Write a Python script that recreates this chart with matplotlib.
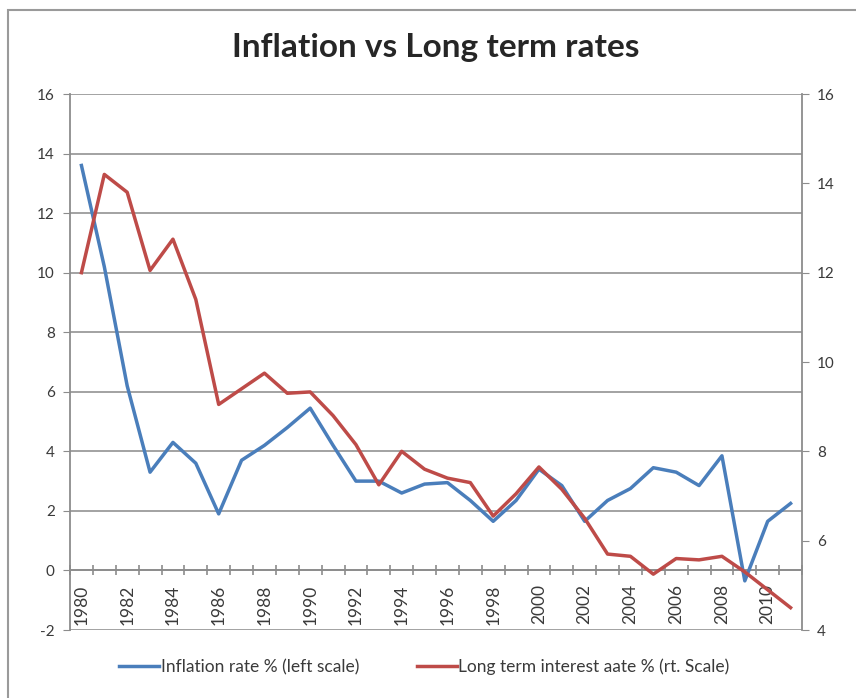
import matplotlib
matplotlib.use("Agg")
import matplotlib.pyplot as plt
from matplotlib.patches import Rectangle
from matplotlib.ticker import FixedLocator

# Annual series, 1980-2011
years = [1980, 1981, 1982, 1983, 1984, 1985, 1986, 1987, 1988, 1989,
         1990, 1991, 1992, 1993, 1994, 1995, 1996, 1997, 1998, 1999,
         2000, 2001, 2002, 2003, 2004, 2005, 2006, 2007, 2008, 2009,
         2010, 2011]
inflation = [13.6, 10.2, 6.2, 3.3, 4.3, 3.6, 1.9, 3.7, 4.2, 4.8,
             5.45, 4.2, 3.0, 3.0, 2.6, 2.9, 2.95, 2.35, 1.65, 2.35,
             3.4, 2.85, 1.65, 2.35, 2.75, 3.45, 3.3, 2.85, 3.85, -0.35,
             1.65, 2.25]
long_rate = [12.0, 14.2, 13.8, 12.05, 12.75, 11.4, 9.05, 9.4, 9.75, 9.3,
             9.33, 8.8, 8.15, 7.25, 8.0, 7.6, 7.4, 7.3, 6.55, 7.05,
             7.65, 7.15, 6.5, 5.7, 5.65, 5.25, 5.6, 5.57, 5.65, 5.3,
             4.9, 4.5]

left_ticks = [-2, 0, 2, 4, 6, 8, 10, 12, 14, 16]
right_ticks = [4, 6, 8, 10, 12, 14, 16]

BLUE = "#4a7ebb"
RED = "#be4b48"
AXIS = "#8c8c8c"
TEXT = "#3a3a3a"

plt.rcParams["font.family"] = ["Lato", "DejaVu Sans"]
plt.rcParams["axes.unicode_minus"] = False

fig = plt.figure(figsize=(8.56, 6.98), dpi=100)
W, H = 856, 698

# chart-area border
fig.patches.append(Rectangle((8 / W, -0.1), 1.2, 1 - 10 / H + 0.1,
                             transform=fig.transFigure, fill=False,
                             edgecolor="#9a9a9a", linewidth=1.5))

ax = fig.add_axes([70 / W, 1 - 630 / H, (802 - 70) / W, (630 - 94) / H])
x = list(range(len(years)))

ax.set_xlim(-0.5, len(years) - 0.5)
ax.set_ylim(-2, 16)
ax.set_yticks(left_ticks)
for t in left_ticks:
    ax.axhline(t, color="#9b9b9b", linewidth=1.3, zorder=0)

for side in ("top", "right"):
    ax.spines[side].set_visible(False)
ax.spines["left"].set_color(AXIS)
ax.spines["left"].set_linewidth(1.3)
ax.spines["bottom"].set_position(("data", 0))
ax.spines["bottom"].set_color(AXIS)
ax.spines["bottom"].set_linewidth(1.3)

ax.tick_params(axis="y", direction="out", length=5, color=AXIS,
               labelsize=11, labelcolor=TEXT, pad=6)

# category boundaries get tick marks, every other year gets a label
ax.xaxis.set_minor_locator(FixedLocator([i - 0.5 for i in range(len(years) + 1)]))
ax.set_xticks(x[::2])
ax.set_xticklabels([str(y) for y in years[::2]], rotation=90)
ax.tick_params(axis="x", which="major", length=0, pad=10,
               labelsize=12.5, labelcolor=TEXT)
ax.tick_params(axis="x", which="minor", direction="inout", length=7,
               color=AXIS, width=1.2)

l1, = ax.plot(x, inflation, color=BLUE, linewidth=2.5,
              label="Inflation rate % (left scale)", zorder=3)

ax2 = ax.twinx()
ax2.set_ylim(4, 16)
ax2.set_yticks(right_ticks)
for side in ("top", "left", "bottom"):
    ax2.spines[side].set_visible(False)
ax2.spines["right"].set_color(AXIS)
ax2.spines["right"].set_linewidth(1.3)
ax2.tick_params(axis="y", direction="out", length=5, color=AXIS,
                labelsize=11, labelcolor=TEXT, pad=6)

l2, = ax2.plot(x, long_rate, color=RED, linewidth=2.5,
               label="Long term interest aate % (rt. Scale)", zorder=3)

fig.text(436 / W, 1 - 48 / H, "Inflation vs Long term rates",
         ha="center", va="center", fontsize=24, fontweight="bold",
         color="#262626")

fig.legend(handles=[l1, l2], loc="center", bbox_to_anchor=(0.496, 1 - 667 / H),
           ncol=2, frameon=False, fontsize=12.5, handlelength=2.3,
           handletextpad=0.1, columnspacing=3.3, labelcolor=TEXT)

fig.savefig("out.png", dpi=100)
